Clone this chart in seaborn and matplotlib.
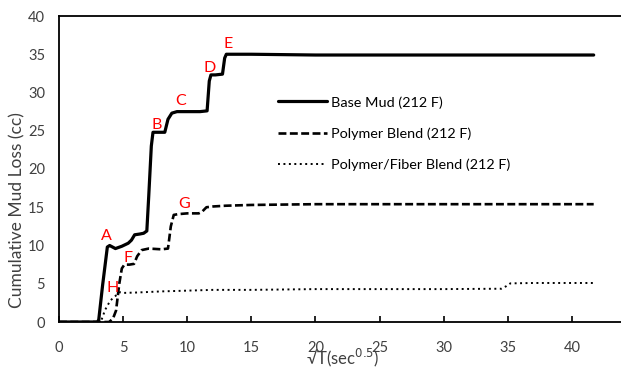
import matplotlib
matplotlib.use("Agg")
import matplotlib.pyplot as plt
import seaborn as sns
import pandas as pd

# Cumulative mud loss vs square root of time, three fluids at 212 F
base_x = [0, 1, 2, 3.0, 3.1, 3.4, 3.77, 3.95, 4.4, 4.9, 5.4, 5.65, 5.9, 6.3, 6.6, 6.85,
          7.0, 7.2, 7.33, 7.6, 8.25, 8.5, 8.8, 9.2, 10, 11.0, 11.55, 11.72, 11.85, 12.2,
          12.75, 12.92, 13.05, 13.3, 15, 20, 25, 30, 35, 40, 41.7]
base_y = [0, 0, 0, 0, 0.3, 4.8, 9.8, 10.0, 9.6, 9.9, 10.3, 10.7, 11.4, 11.5, 11.6, 11.9,
          16.5, 23.0, 24.8, 24.8, 24.8, 26.5, 27.3, 27.5, 27.5, 27.5, 27.6, 31.5, 32.3, 32.3,
          32.4, 34.5, 35.0, 35.0, 35.0, 34.9, 34.9, 34.9, 34.9, 34.9, 34.9]

poly_x = [0, 1, 2, 3, 3.9, 4.2, 4.45, 4.7, 4.9, 5.1, 5.5, 5.85, 6.1, 6.45, 7, 8, 8.5,
          8.72, 8.95, 9.3, 10, 10.9, 11.15, 11.5, 12, 13, 15, 20, 25, 30, 35, 40, 41.7]
poly_y = [0, 0, 0, 0, 0, 0.4, 1.5, 5.0, 7.0, 7.5, 7.5, 7.6, 8.6, 9.4, 9.6, 9.5, 9.6,
          12.5, 14.0, 14.1, 14.2, 14.2, 14.4, 15.0, 15.1, 15.2, 15.3, 15.4, 15.4, 15.4,
          15.4, 15.4, 15.4]

fiber_x = [0, 1, 2, 3, 3.3, 3.6, 4.0, 4.4, 4.75, 5, 6, 8, 10, 12, 15, 20, 25, 30, 34.5,
           34.9, 35.2, 37, 40, 41.7]
fiber_y = [0, 0, 0, 0, 0.2, 1.6, 2.8, 3.4, 3.9, 3.8, 3.85, 4.0, 4.1, 4.2, 4.2, 4.3, 4.3,
           4.3, 4.35, 4.7, 5.05, 5.1, 5.1, 5.1]

series_names = ["Base Mud (212 F)", "Polymer Blend (212 F)", "Polymer/Fiber Blend (212 F)"]

# Event markers along the curves
point_labels = ["A", "B", "C", "D", "E", "F", "G", "H"]
point_x = [3.72, 7.61, 9.48, 11.77, 13.22, 5.40, 9.77, 4.18]
point_y = [11.2, 25.7, 28.9, 33.2, 36.3, 8.4, 15.4, 4.4]

x_ticks = [0, 5, 10, 15, 20, 25, 30, 35, 40]
y_ticks = [0, 5, 10, 15, 20, 25, 30, 35, 40]

sns.set_style("white")
plt.rcParams["font.family"] = ["Lato", "DejaVu Sans"]

frames = []
for name, xs, ys in zip(series_names, [base_x, poly_x, fiber_x], [base_y, poly_y, fiber_y]):
    frames.append(pd.DataFrame({"t": xs, "loss": ys, "fluid": name}))
df = pd.concat(frames, ignore_index=True)

fig = plt.figure(figsize=(6.21, 3.71), dpi=100)
ax = fig.add_axes([59 / 621, 49 / 371, 577 / 621, 306 / 371])

styles = {
    series_names[0]: dict(lw=2.3, ls="-"),
    series_names[1]: dict(lw=1.9, ls=(0, (3.0, 1.3))),
    series_names[2]: dict(lw=1.4, ls=(0, (1.0, 1.8))),
}
for name in series_names:
    sub = df[df["fluid"] == name]
    sns.lineplot(data=sub, x="t", y="loss", ax=ax, color="black", label=name,
                 linewidth=styles[name]["lw"], linestyle=styles[name]["ls"],
                 sort=False, estimator=None)

for lab, px, py in zip(point_labels, point_x, point_y):
    ax.text(px, py, lab, color="red", fontsize=11.5, ha="center", va="center")

ax.set_xlim(0, 45)
ax.set_ylim(0, 40)
ax.set_xticks(x_ticks)
ax.set_yticks(y_ticks)
ax.tick_params(axis="x", direction="in", length=4, width=1.2, color="black",
               labelsize=10.5, labelcolor="#404040", pad=14, bottom=True)
ax.tick_params(axis="y", length=0, labelsize=10.5, labelcolor="#404040", pad=10)
for sp in ["left", "bottom", "top", "right"]:
    ax.spines[sp].set_color("black")
    ax.spines[sp].set_linewidth(1.3)

ax.set_xlabel("")
ax.set_ylabel("")
fig.text(343 / 621, 1 - 358 / 371, "\u221aT(sec$^{0.5}$)", ha="center", va="center",
         fontsize=12, color="#404040")
fig.text(17.5 / 621, 1 - 210 / 371, "Cumulative Mud Loss (cc)", ha="center", va="center",
         rotation=90, fontsize=12.5, color="#404040")

leg = ax.legend(loc="upper left", bbox_to_anchor=(265 / 621, 1 - 83 / 371),
                bbox_transform=fig.transFigure, frameon=False, fontsize=10.4,
                handlelength=3.4, handletextpad=0.25, labelspacing=1.3)
for t in leg.get_texts():
    t.set_color("black")

fig.savefig("out.png", dpi=100)
